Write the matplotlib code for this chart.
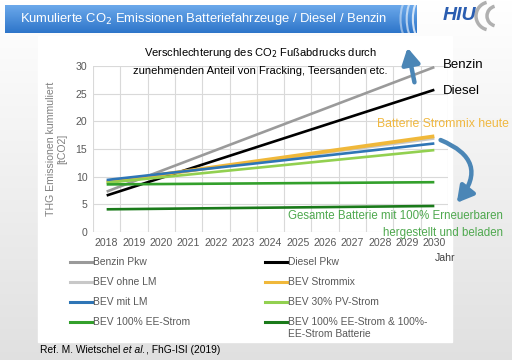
import numpy as np
import matplotlib.pyplot as plt
from matplotlib.patches import FancyArrowPatch, Rectangle, Arc
from matplotlib.lines import Line2D

plt.rcParams['font.family'] = ['Liberation Sans', 'DejaVu Sans']

# Werte (Start 2018, Ende 2030)
years = [2018, 2030]
benzin = [7.3, 29.8]
diesel = [6.6, 25.7]
bev_ohne_lm = [9.1, 16.9]
bev_strommix = [9.0, 17.3]
bev_mit_lm = [9.4, 16.0]
bev_pv30 = [8.9, 14.8]
bev_ee100 = [8.6, 9.0]
bev_ee100_batt = [4.1, 4.7]

labels = ['Benzin Pkw', 'Diesel Pkw', 'BEV ohne LM', 'BEV Strommix', 'BEV mit LM',
          'BEV 30% PV-Strom', 'BEV 100% EE-Strom', 'BEV 100% EE-Strom & 100%-\nEE-Strom Batterie']
series = [benzin, diesel, bev_ohne_lm, bev_strommix, bev_mit_lm, bev_pv30, bev_ee100, bev_ee100_batt]
colors = ['#9a9a9a', '#000000', '#c8c8c8', '#f0b83a', '#2e75b6', '#92d050', '#33a02c', '#1a7a1a']
widths = [1.9, 1.9, 1.9, 2.7, 1.9, 1.9, 1.9, 1.9]
tick_years = list(range(2018, 2031))

W, H = 512, 360
fig = plt.figure(figsize=(W / 100, H / 100), dpi=100)


def px(x, y):
    return (x / W, 1 - y / H)


# Hintergrund mit leichtem Verlauf
bg = fig.add_axes([0, 0, 1, 1], zorder=-10)
grad = np.linspace(1.0, 0.88, 256).reshape(-1, 1)
bg.imshow(np.dstack([grad, grad, grad]), aspect='auto', extent=[0, 1, 0, 1])
bg.add_patch(Rectangle(px(38, 342), 414 / W, 306 / H, color='white'))
bg.set_xlim(0, 1)
bg.set_ylim(0, 1)
bg.axis('off')

# Titelbalken (vertikaler Verlauf)
tb = fig.add_axes([5 / W, 1 - 33 / H, 412 / W, 28 / H], zorder=-5)
top = np.array([0.42, 0.66, 0.92])
bot = np.array([0.18, 0.46, 0.79])
t = np.linspace(0, 1, 40)[:, None]
col = top[None, :] + (bot - top)[None, :] * t
tb.imshow(np.repeat(col[:, None, :], 10, axis=1), aspect='auto', extent=[0, 1, 0, 1])
for i, xc in enumerate([0.975, 0.99, 1.005]):
    tb.add_patch(Arc((xc, 0.5), 0.03, 1.3, theta1=90, theta2=270,
                     color='white', alpha=0.45 + 0.15 * i, lw=1.5))
tb.set_xlim(0, 1)
tb.set_ylim(0, 1)
tb.axis('off')
fig.text(*px(20, 19), 'Kumulierte CO$_2$ Emissionen Batteriefahrzeuge / Diesel / Benzin',
         color='white', fontsize=9.4, va='center', ha='left')

# HIU Logo
fig.text(*px(443, 16), 'HIU', color='#2a5db0', fontsize=14, fontweight='bold',
         fontstyle='italic', va='center', ha='left')
for r, xc in [(14, 490), (10, 497)]:
    bg.add_patch(Arc(px(xc, 16), 2 * r / W, 2 * r / H, theta1=100, theta2=260,
                     color='#b0b0b0', lw=2.5))

# Diagramm
ax = fig.add_axes([93 / W, 1 - 232 / H, 355 / W, 166 / H])
for vals, lab, c, lw in zip(series, labels, colors, widths):
    ax.plot(years, vals, color=c, lw=lw, label=lab, solid_capstyle='butt')
ax.set_xlim(2017.5, 2030.5)
ax.set_ylim(0, 30)
ax.set_xticks(tick_years)
ax.set_xticks(np.arange(2017.5, 2031, 1), minor=True)
ax.set_yticks(range(0, 31, 5))
ax.grid(which='minor', axis='x', color='#d9d9d9', lw=0.8)
ax.grid(which='major', axis='y', color='#d9d9d9', lw=0.8)
ax.set_axisbelow(True)
ax.tick_params(which='both', length=0, labelsize=7.6, colors='#595959', pad=4)
for s in ax.spines.values():
    s.set_visible(False)
ax.set_ylabel('THG Emissionen kummuliert\n[tCO2]', fontsize=7.6, color='#7f7f7f', labelpad=6)
fig.text(*px(445, 258), 'Jahr', fontsize=7.6, color='#404040', ha='center', va='center')

# Legende
rows = [262, 282, 302, 322]
for i, (lab, c) in enumerate(zip(labels, colors)):
    r, k = divmod(i, 2)
    x0 = 70 if k == 0 else 265
    y = rows[r]
    fig.add_artist(Line2D([x0 / W, (x0 + 22) / W], [1 - y / H, 1 - y / H], color=c, lw=2.2))
    fig.text((x0 + 23) / W, 1 - (y - 5) / H, lab, fontsize=7.4, color='#595959',
             ha='left', va='top', linespacing=1.2)

# Texte im Diagramm
fig.text(*px(260, 53), 'Verschlechterung des CO$_2$ Fußabdrucks durch', fontsize=8.0,
         ha='center', va='center')
fig.text(*px(260, 71), 'zunehmenden Anteil von Fracking, Teersanden etc.', fontsize=8.0,
         ha='center', va='center')
fig.text(*px(443, 65), 'Benzin', fontsize=9.5, ha='left', va='center')
fig.text(*px(443, 91), 'Diesel', fontsize=9.5, ha='left', va='center')
fig.text(*px(509, 124), 'Batterie Strommix heute', fontsize=8.8, color='#f0b840',
         ha='right', va='center')
fig.text(*px(503, 216), 'Gesamte Batterie mit 100% Erneuerbaren', fontsize=8.3,
         color='#4ea84e', ha='right', va='center')
fig.text(*px(503, 233), 'hergestellt und beladen', fontsize=8.3,
         color='#4ea84e', ha='right', va='center')

arrow_col = '#4b86b6'
fig.add_artist(FancyArrowPatch(px(415, 85), px(407, 45), transform=fig.transFigure,
                               arrowstyle='-|>,head_width=0.45,head_length=0.8',
                               mutation_scale=12, lw=3.2, color=arrow_col))
fig.add_artist(FancyArrowPatch(px(438, 139), px(455, 205), transform=fig.transFigure,
                               connectionstyle='arc3,rad=-0.7',
                               arrowstyle='-|>,head_width=0.45,head_length=0.8',
                               mutation_scale=12, lw=3.2, color=arrow_col))

# Quelle: Teile hintereinander setzen
renderer = fig.canvas.get_renderer()
x_cur = 40
for part, style in [('Ref. M. Wietschel ', 'normal'), ('et al.', 'italic'),
                    (', FhG-ISI (2019)', 'normal')]:
    tx = fig.text(*px(x_cur, 350), part, fontsize=7.4, fontstyle=style,
                  ha='left', va='center')
    x_cur += tx.get_window_extent(renderer).width

fig.savefig('out.png', dpi=100)
